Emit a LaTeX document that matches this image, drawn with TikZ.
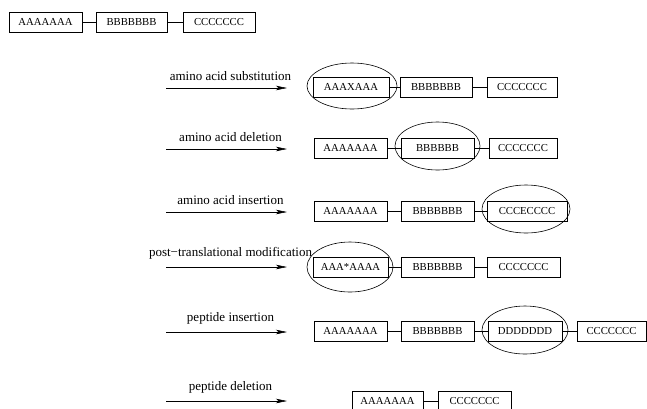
\documentclass[tikz,border=0pt]{standalone}
\usepackage{fontspec}
\setmainfont{Liberation Serif}
\usetikzlibrary{shapes.geometric, arrows.meta}

\begin{document}
\begin{tikzpicture}[x=1pt, y=-1pt,
    seg/.style={draw, line width=0.8pt, minimum width=73pt, minimum height=20pt, inner sep=2pt, font=\fontsize{10.7}{12}\selectfont},
    hilite/.style={draw, ellipse, line width=0.6pt, minimum width=86pt, minimum height=48pt},
    change/.style={-{Stealth[length=11pt, width=4.5pt, inset=2.5pt]}, line width=0.6pt},
    lbl/.style={above=4pt, xshift=4pt, font=\fontsize{13}{15}\selectfont}]
    \useasboundingbox (0,0) rectangle (647,408);
    % original chain
    \node[seg] (a0) at (45.5,22) {AAAAAAA};
    \node[seg, minimum width=71pt] (b0) at (131.5,22) {BBBBBBB};
    \node[seg, minimum width=72pt] (c0) at (219,22) {CCCCCCC};
    \draw (a0) -- (b0);
    \draw (b0) -- (c0);
    % amino acid substitution
    \coordinate (s1) at (166,88);
    \coordinate (t1) at (287,88);
    \draw[change] (s1) -- node[lbl] {amino acid substitution} (t1);
    \node[seg, minimum width=76pt] (a1) at (351,87) {AAAXAAA};
    \node[seg, minimum width=72pt] (b1) at (436,87) {BBBBBBB};
    \node[seg, minimum width=70pt] (c1) at (522,87) {CCCCCCC};
    \node[hilite, minimum width=90pt, minimum height=46pt] (e1) at (352,86) {};
    \draw (a1) -- (b1);
    \draw (b1) -- (c1);
    % amino acid deletion
    \coordinate (s2) at (166,149);
    \coordinate (t2) at (287,149);
    \draw[change] (s2) -- node[lbl] {amino acid deletion} (t2);
    \node[seg] (a2) at (350.5,148) {AAAAAAA};
    \node[seg] (b2) at (437.5,148) {BBBBBB};
    \node[seg, minimum width=68pt] (c2) at (523,148) {CCCCCCC};
    \node[hilite, minimum width=85pt] (e2) at (437.5,146) {};
    \draw (a2) -- (b2);
    \draw (b2) -- (c2);
    % amino acid insertion
    \coordinate (s3) at (166,212);
    \coordinate (t3) at (287,212);
    \draw[change] (s3) -- node[lbl] {amino acid insertion} (t3);
    \node[seg] (a3) at (350.5,211) {AAAAAAA};
    \node[seg] (b3) at (437.5,211) {BBBBBBB};
    \node[seg, minimum width=80pt] (c3) at (527,211) {CCCECCCC};
    \node[hilite, minimum width=88pt] (e3) at (526,209) {};
    \draw (a3) -- (b3);
    \draw (b3) -- (c3);
    % post-translational modification
    \coordinate (s4) at (166,267);
    \coordinate (t4) at (287,267);
    \draw[change] (s4) -- node[lbl] {post−translational modification} (t4);
    \node[seg, minimum width=75pt] (a4) at (350.5,267) {AAA*AAAA};
    \node[seg] (b4) at (437.5,267) {BBBBBBB};
    \node[seg] (c4) at (523.5,267) {CCCCCCC};
    \node[hilite, minimum height=50pt] (e4) at (350,267) {};
    \draw (a4) -- (b4);
    \draw (b4) -- (c4);
    % peptide insertion
    \coordinate (s5) at (166,332);
    \coordinate (t5) at (287,332);
    \draw[change] (s5) -- node[lbl] {peptide insertion} (t5);
    \node[seg] (a5) at (350.5,331) {AAAAAAA};
    \node[seg] (b5) at (437.5,331) {BBBBBBB};
    \node[seg, minimum width=74pt] (d5) at (525,331) {DDDDDDD};
    \node[seg, minimum width=69pt] (c5) at (611.5,331) {CCCCCCC};
    \node[hilite] (e5) at (525,330) {};
    \draw (a5) -- (b5);
    \draw (b5) -- (d5);
    \draw (d5) -- (c5);
    % peptide deletion
    \coordinate (s6) at (166,401);
    \coordinate (t6) at (287,401);
    \draw[change] (s6) -- node[lbl] {peptide deletion} (t6);
    \node[seg, minimum width=71pt] (a6) at (387.5,401) {AAAAAAA};
    \node[seg] (c6) at (474.5,401) {CCCCCCC};
    \draw (a6) -- (c6);
\end{tikzpicture}
\end{document}
